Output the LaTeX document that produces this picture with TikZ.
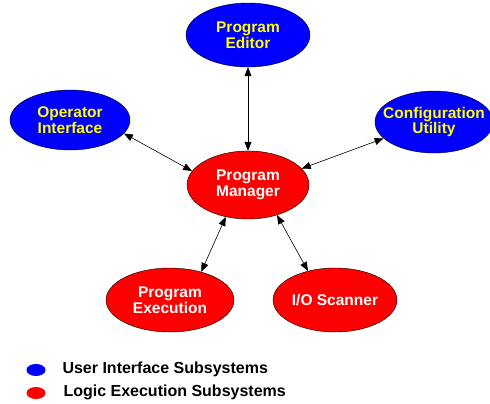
\documentclass[tikz,border=0pt]{standalone}
\usepackage{fontspec}
\setmainfont{Liberation Sans}
\usetikzlibrary{shapes.geometric,arrows.meta}
\definecolor{uiblue}{RGB}{0,0,255}
\definecolor{logicred}{RGB}{255,0,0}
\definecolor{uiyellow}{RGB}{255,255,0}
\tikzset{
  sub/.style={draw, ellipse, inner sep=0pt, align=center, font=\bfseries\fontsize{15.5}{15.5}\selectfont},
  uisub/.style={sub, fill=uiblue, text=uiyellow},
  logicsub/.style={sub, fill=logicred, text=white},
  link/.style={{Triangle[length=9pt,width=7pt]}-{Triangle[length=9pt,width=7pt]}, semithick},
  legtext/.style={anchor=west, font=\bfseries\fontsize{16}{17}\selectfont}
}
\begin{document}
\begin{tikzpicture}[x=1pt, y=-1pt]
        \useasboundingbox (0, 0) rectangle (490, 404);

        \node[uisub, minimum width=124pt, minimum height=64pt] (editor) at (248, 35) {Program\\Editor};
        \node[uisub, minimum width=120pt, minimum height=60pt] (oper) at (70, 120) {Operator\\Interface};
        \node[uisub, minimum width=118pt, minimum height=62pt] (config) at (434, 122) {\makebox[60pt]{Configuration}\\Utility};

        \node[logicsub, minimum width=122pt, minimum height=68pt] (manager) at (248, 185) {Program\\Manager};
        \node[logicsub, minimum width=128pt, minimum height=64pt] (exec) at (170, 300) {Program\\Execution};
        \node[logicsub, minimum width=124pt, minimum height=64pt] (scanner) at (335, 300) {I/O Scanner};

        \draw[link] (editor) -- (manager);
        \draw[link] (oper.346) -- (manager.166);
        \draw[link] (config.198) -- (manager.17);
        \draw[link] (manager.235) -- (exec.42);
        \draw[link] (manager.314) -- (scanner.133);

        % legend
        \node[ellipse, fill=uiblue, minimum width=19pt, minimum height=12pt, inner sep=0pt] (keyui) at (36, 370) {};
        \node[legtext] (keyuitext) at (59, 369) {User Interface Subsystems};
        \node[ellipse, fill=logicred, minimum width=19pt, minimum height=12pt, inner sep=0pt] (keylogic) at (36, 393) {};
        \node[legtext] (keylogictext) at (60, 392) {Logic Execution Subsystems};
    \end{tikzpicture}
\end{document}
